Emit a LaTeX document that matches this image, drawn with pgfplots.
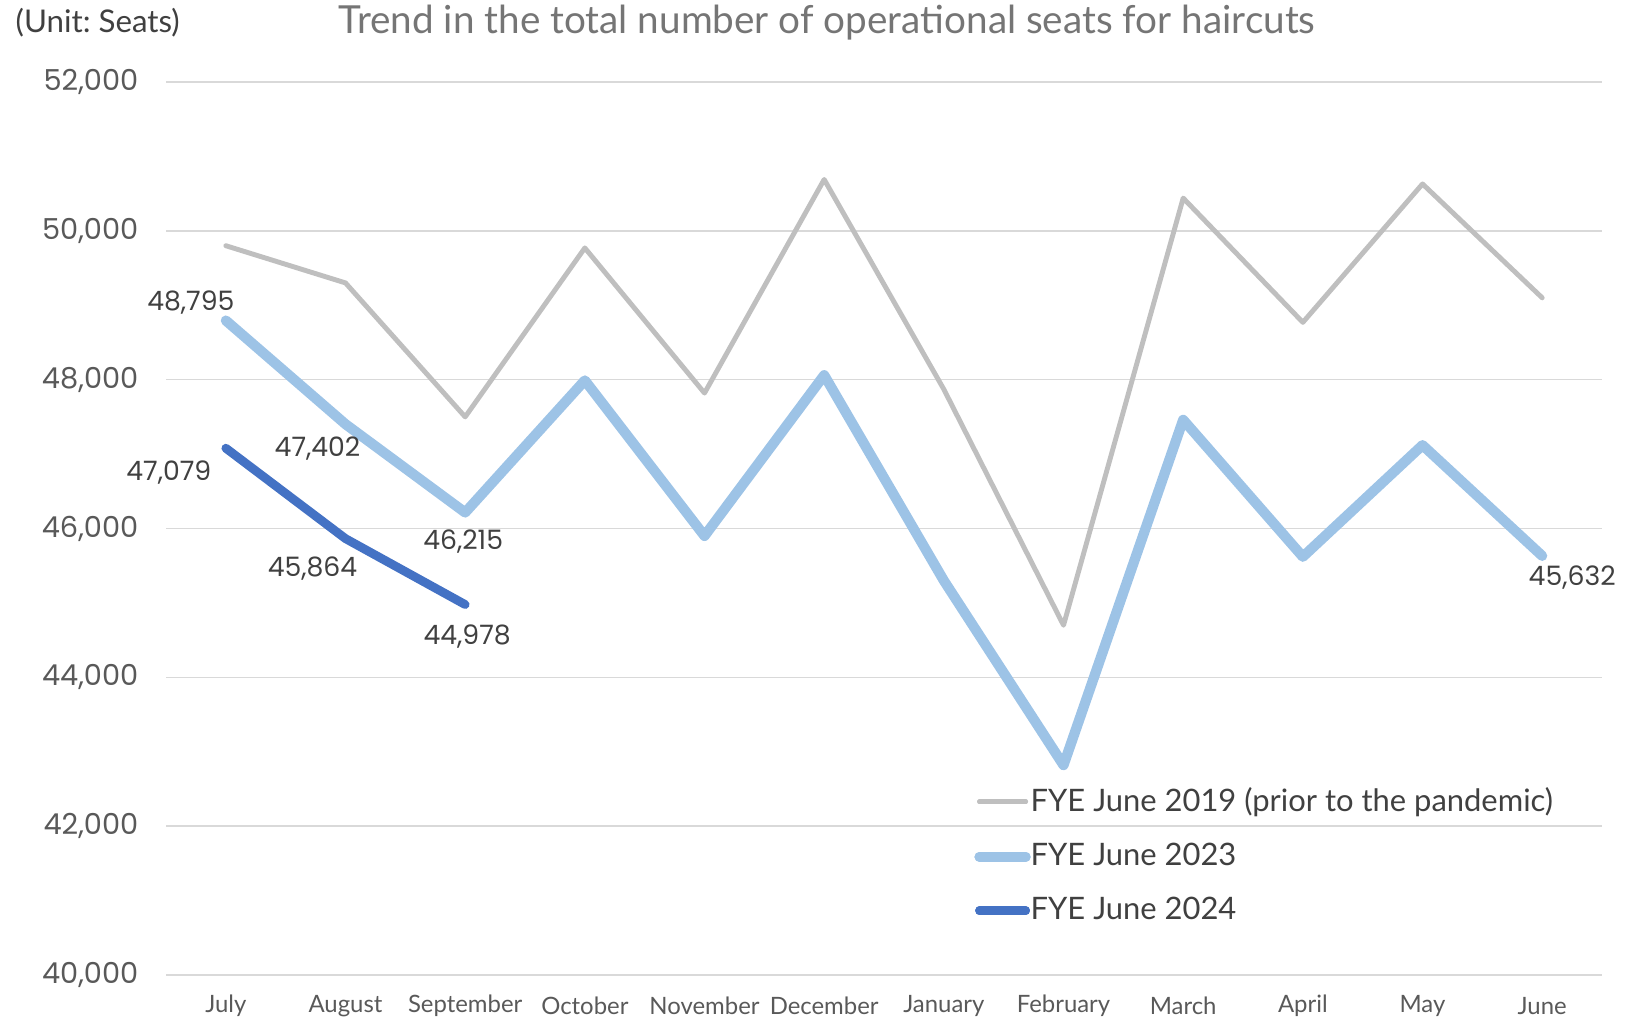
\documentclass[border=0pt]{standalone}
\usepackage{fontspec}
\setmainfont{Lato}
\newfontfamily\numfont{Poppins}
\usepackage{pgfplots}
\pgfplotsset{compat=1.18}
\frenchspacing
\definecolor{cgray}{HTML}{BFBFBF}
\definecolor{clight}{HTML}{9DC3E6}
\definecolor{cdark}{HTML}{4472C4}
\definecolor{ctext}{HTML}{404040}
\definecolor{ctick}{HTML}{595959}
\definecolor{cgrid}{HTML}{D9D9D9}
\definecolor{ctitle}{HTML}{757575}
\begin{document}
\begin{tikzpicture}
\begin{axis}[
  at={(0,0)}, anchor=south west,
  scale only axis, width=14.36cm, height=8.93cm,
  xmin=-0.5, xmax=11.5, ymin=40000, ymax=52000,
  xtick={0,...,11},
  xticklabels={July,August,September,October,November,December,January,February,March,April,May,June},
  ytick={40000,42000,...,52000},
  scaled y ticks=false,
  /pgf/number format/fixed,
  /pgf/number format/1000 sep={,},
  /pgf/number format/assume math mode=true,
  axis line style={draw=none},
  major tick length=0pt,
  ymajorgrids, grid style={cgrid, line width=0.45pt},
  yticklabel style={font=\fontsize{8.2}{10}\numfont, color=ctick, inner sep=0pt, anchor=east, xshift=-0.27cm},
  xticklabel style={font=\fontsize{6.8}{8}\selectfont, color=ctick, inner sep=0pt, anchor=center, yshift=-0.31cm},
  legend style={draw=none, fill=none, at={(rel axis cs:0.5625,0.215)}, anchor=north west,
    font=\fontsize{8.8}{10}\selectfont, text=ctext, row sep=5.5pt, inner sep=0pt,
    nodes={inner xsep=0pt, inner ysep=1pt}},
  legend cell align=left,
  legend image code/.code={\path (0cm,0cm) -- (0.46cm,0cm);\draw[#1, line cap=round, overlay] (0cm,0cm) -- (0.46cm,0cm);},
  clip=false,
]
\addplot[cgray, line width=1.4pt, line join=round, line cap=round] coordinates {
 (0,49800) (1,49300) (2,47500) (3,49770) (4,47820) (5,50690)
 (6,47870) (7,44700) (8,50440) (9,48770) (10,50630) (11,49100)};
\addlegendentry{FYE June 2019 (prior to the pandemic)}
\addplot[clight, line width=2.9pt, line join=round, line cap=round] coordinates {
 (0,48795) (1,47402) (2,46215) (3,47990) (4,45900) (5,48060)
 (6,45300) (7,42820) (8,47460) (9,45620) (10,47120) (11,45632)};
\addlegendentry{FYE June 2023}
\addplot[cdark, line width=2.5pt, line join=round, line cap=round] coordinates {
 (0,47079) (1,45864) (2,44978)};
\addlegendentry{FYE June 2024}
% data labels
\pgfplotsset{lbl/.style n args={2}{draw=none, mark=none, forget plot, point meta=y,
  nodes near coords={\pgfmathprintnumber[fixed,precision=0,1000 sep={,},assume math mode=true]{\pgfplotspointmeta}},
  every node near coord/.style={font=\fontsize{7.6}{9}\numfont, text=ctext, anchor=center, inner sep=0pt, xshift=#1, yshift=#2}}}
\addplot[lbl={-0.35cm}{0.18cm}] coordinates {(0,48795)};
\addplot[lbl={-0.28cm}{-0.24cm}] coordinates {(1,47402)};
\addplot[lbl={-0.02cm}{-0.29cm}] coordinates {(2,46215)};
\addplot[lbl={0.30cm}{-0.22cm}] coordinates {(11,45632)};
\addplot[lbl={-0.57cm}{-0.24cm}] coordinates {(0,47079)};
\addplot[lbl={-0.33cm}{-0.30cm}] coordinates {(1,45864)};
\addplot[lbl={0.02cm}{-0.32cm}] coordinates {(2,44978)};
\end{axis}
\node[font=\fontsize{11}{13}\selectfont, text=ctitle, anchor=center] at (6.61cm,9.52cm) {Trend in the total number of operational seats for haircuts};
\node[font=\fontsize{8.9}{10}\selectfont, text=ctext, anchor=west, inner sep=0pt] at (-1.51cm,9.52cm) {(Unit: Seats)};
\pgfresetboundingbox
\path[use as bounding box] (-1.66cm,-0.44cm) rectangle (14.60cm,9.75cm);
\end{tikzpicture}
\end{document}
